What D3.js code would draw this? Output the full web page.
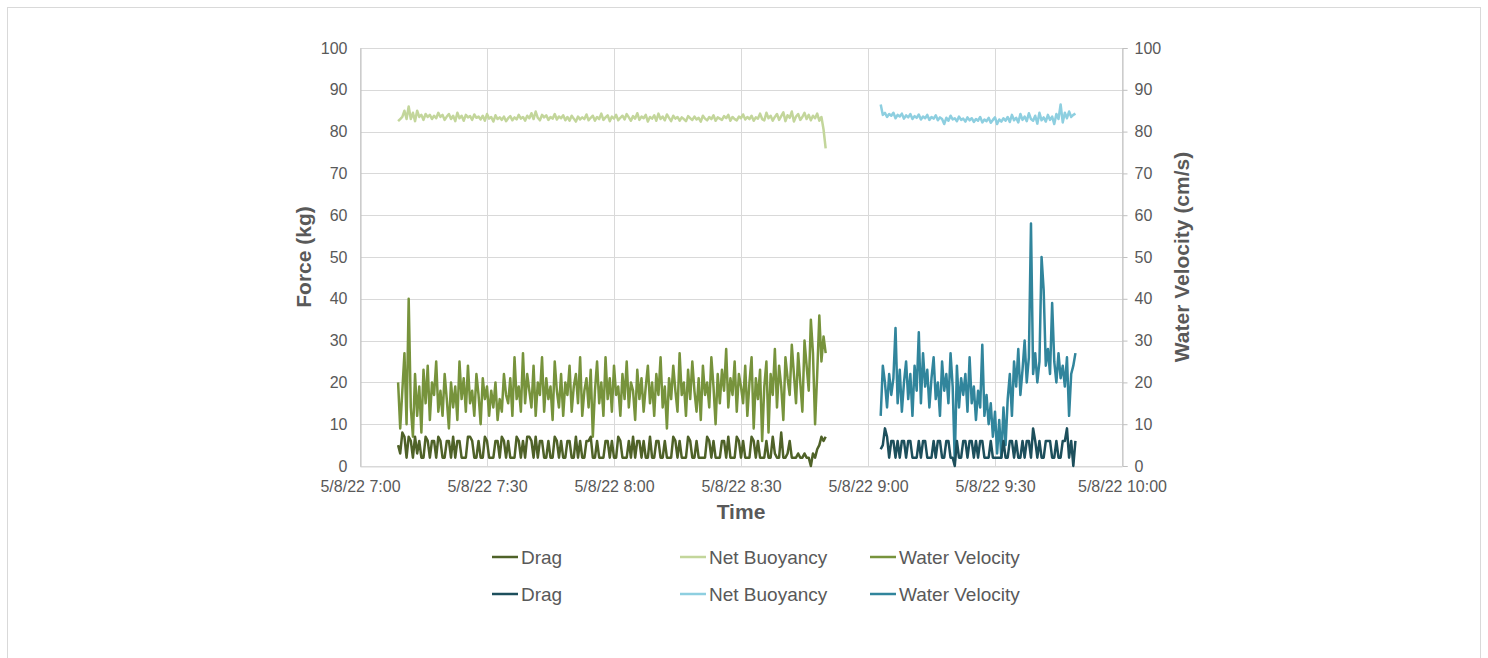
<!DOCTYPE html>
<html>
<head>
<meta charset="utf-8">
<script src="https://cdn.jsdelivr.net/npm/d3@7"></script>
<style>
  body { margin: 0; background: #fff; }
  svg text { font-family: "Liberation Sans", Arial, sans-serif; fill: #595959; }
</style>
</head>
<body>
<div id="chart"></div>
<script>
// Sampling: every 30 s. Deployment 1 (green) starts 7:09, deployment 2 (blue) starts 9:03
var greenStart = new Date(2022, 4, 8, 7, 9, 0);
var blueStart = new Date(2022, 4, 8, 9, 3, 0);
var stepMinutes = 0.5;

var greenVelocity = [
  20, 9, 18, 27, 10, 40, 14, 7, 22, 12, 19, 8, 23, 15, 24, 11, 20, 17, 25, 13,
  18, 12, 22, 16, 9, 20, 14, 19, 11, 25, 16, 21, 13, 24, 15, 18, 12, 22, 17, 10,
  21, 16, 19, 12, 18, 14, 20, 11, 16, 13, 22, 17, 15, 21, 12, 26, 16, 19, 13, 27,
  15, 22, 18, 14, 24, 12, 20, 17, 26, 13, 21, 16, 19, 11, 25, 18, 14, 22, 12, 20,
  17, 24, 13, 19, 22, 15, 26, 12, 18, 21, 14, 23, 7, 18, 25, 15, 20, 12, 26, 16,
  21, 13, 24, 17, 19, 12, 22, 16, 25, 14, 20, 18, 11, 23, 16, 21, 13, 19, 24, 15,
  20, 12, 22, 17, 26, 14, 19, 9, 21, 16, 24, 18, 13, 27, 17, 20, 12, 23, 16, 25,
  18, 13, 21, 11, 24, 17, 20, 14, 26, 19, 10, 22, 15, 23, 18, 28, 14, 21, 17, 25,
  13, 22, 19, 15, 24, 12, 20, 26, 9, 21, 16, 23, 6, 19, 25, 8, 22, 17, 28, 14,
  24, 19, 11, 26, 21, 17, 29, 22, 15, 27, 20, 13, 30, 24, 18, 35, 27, 10, 22, 36,
  25, 31, 27
];

var greenDrag = [
  5, 3, 8, 7, 2, 7, 6, 2, 7, 3, 6, 2, 2, 7, 6, 2, 6, 6, 2, 7,
  6, 2, 2, 6, 6, 2, 7, 2, 6, 6, 2, 2, 2, 7, 7, 6, 2, 2, 6, 2,
  2, 7, 6, 2, 2, 2, 6, 6, 2, 7, 6, 2, 6, 2, 2, 2, 7, 6, 2, 6,
  2, 7, 7, 6, 2, 7, 2, 6, 6, 2, 2, 6, 2, 2, 7, 6, 2, 6, 2, 2,
  6, 6, 2, 2, 7, 2, 6, 2, 2, 6, 6, 7, 2, 2, 6, 2, 2, 2, 6, 6,
  2, 6, 2, 2, 7, 6, 2, 2, 2, 6, 2, 7, 2, 6, 6, 2, 6, 2, 2, 7,
  2, 2, 6, 6, 2, 2, 6, 2, 2, 2, 7, 6, 2, 6, 2, 2, 2, 7, 6, 2,
  2, 6, 2, 2, 2, 2, 7, 6, 2, 6, 2, 2, 2, 6, 6, 2, 7, 2, 2, 2,
  7, 6, 2, 6, 2, 2, 2, 7, 6, 2, 6, 2, 2, 2, 6, 2, 2, 7, 3, 2,
  2, 8, 2, 2, 3, 6, 2, 2, 2, 3, 2, 2, 3, 2, 2, 0, 3, 2, 4, 5,
  7, 6, 7
];

var greenBuoyancy = [
  82.5, 83, 83.5, 85, 83, 86, 83, 84.5, 82.5, 85, 83.5, 84, 82.8, 84.2, 83.5, 84, 83, 83.8, 83.2, 84.5,
  83.5, 84, 82.8, 83.6, 84.2, 83, 83.8, 82.5, 84.5, 83.2, 83.8, 82.6, 84, 83.4, 83.7, 82.8, 84.1, 83.3, 83.6, 82.9,
  83.8, 82.6, 84.2, 83.1, 83.5, 82.4, 83.9, 83, 83.4, 82.8, 83.6, 82.5, 83.2, 83.7, 82.7, 83.4, 82.9, 84, 83.1, 83.5,
  82.6, 83.8, 83.2, 84.4, 83, 84.8, 83.3, 82.7, 84, 83.4, 83.9, 82.8, 83.5, 83.1, 84.2, 82.9, 83.6, 83.2, 83.9, 82.7,
  83.5, 82.6, 83.8, 83.1, 82.4, 83.6, 82.9, 83.4, 83, 84.1, 82.7, 83.3, 83.8, 82.6, 83.5, 83, 84.3, 82.8, 83.4, 83.9,
  82.5, 83.6, 83.1, 84, 82.7, 83.3, 83.8, 82.9, 84.2, 83.4, 82.6, 83.7, 83.1, 84.4, 82.8, 83.6, 83.2, 84, 82.4, 83.5,
  83.1, 83.9, 82.6, 84.3, 83, 83.6, 82.7, 84.1, 83.3, 82.5, 83.8, 83.1, 83.5, 82.6, 83.4, 83, 82.5, 83.7, 83.2, 82.8,
  83.6, 82.9, 83.3, 82.4, 83.8, 83.1, 82.7, 83.5, 83, 83.9, 82.6, 83.4, 83.1, 82.8, 83.7, 83.2, 84, 82.6, 83.5, 83,
  82.7, 83.6, 83.2, 84.1, 82.9, 83.5, 83, 83.8, 82.6, 83.4, 83.1, 84.3, 83, 82.7, 84.5, 83.2, 83.8, 82.6, 83.5, 84.2,
  82.8, 83.7, 84.6, 82.5, 83.9, 83.3, 84.8, 82.4, 83.6, 84.2, 82.8, 83.5, 84.5, 83, 84, 82.7, 83.8, 83.2, 84.3, 82.6,
  83.5, 80.5, 76
];

var blueVelocity = [
  12, 24, 20, 14, 22, 17, 21, 33, 15, 23, 13, 20, 25, 16, 22, 12, 24, 18, 32, 15,
  27, 19, 23, 14, 21, 26, 16, 20, 12, 25, 18, 22, 15, 27, 19, 1, 24, 14, 21, 17,
  22, 13, 26, 15, 19, 11, 18, 14, 29, 12, 17, 10, 15, 7, 13, 3, 11, 2, 14, 5,
  16, 22, 12, 25, 19, 28, 17, 23, 30, 20, 26, 58, 22, 27, 20, 25, 50, 42, 24, 28,
  22, 39, 25, 20, 27, 21, 24, 19, 26, 12, 22, 24, 27
];

var blueDrag = [
  4, 5, 9, 7, 2, 6, 6, 2, 6, 2, 6, 6, 2, 6, 6, 2, 2, 2, 6, 2,
  6, 6, 2, 2, 2, 6, 2, 6, 6, 2, 2, 6, 6, 2, 2, 0, 6, 2, 2, 6,
  6, 2, 6, 6, 2, 6, 2, 6, 6, 2, 2, 2, 6, 2, 2, 2, 2, 2, 6, 2,
  2, 6, 6, 2, 6, 2, 2, 6, 2, 6, 6, 2, 9, 6, 2, 6, 2, 2, 6, 6,
  6, 2, 2, 6, 2, 2, 6, 6, 9, 2, 6, 0, 6
];

var blueBuoyancy = [
  86.5, 84, 84.5, 83.5, 84.2, 83.8, 84.5, 83.2, 84, 83.6, 84.3, 83.1, 83.9, 83.4, 84.2, 83, 83.7, 83.3, 84.1, 82.9,
  83.6, 83.2, 84, 82.8, 83.5, 83.1, 83.9, 82.7, 83.4, 83, 81.8, 83.3, 82.6, 83.8, 82.9, 83.2, 82.5, 83.6, 82.8, 83.1,
  82.4, 83.4, 82.7, 83.2, 82.3, 83, 82.6, 83.5, 82.2, 82.9, 82.5, 83.3, 82.1, 82.8, 83.4, 81.8, 82.9, 82.4, 83.2, 82.6,
  83.5, 82.3, 84, 82.7, 83.3, 82.2, 84.2, 82.8, 83.6, 82.5, 84.4, 83, 82.6, 83.8, 81.9, 84.5, 82.7, 83.4, 82.4, 84,
  82.8, 83.6, 81.8, 84.2, 83, 86.5, 82.2, 84.5, 83.2, 84.8, 83.5, 84, 84.3
];

var yTicks = [0, 10, 20, 30, 40, 50, 60, 70, 80, 90, 100];
var legendNames = ["Drag", "Net Buoyancy", "Water Velocity"];

var greenColors = { drag: "#4f6228", buoy: "#c3d69b", vel: "#77933c" };
var blueColors = { drag: "#1d4f5c", buoy: "#8ecfe0", vel: "#31859c" };

var W = 1488, H = 658;
var margin = { top: 48, right: 366, bottom: 192, left: 360 };

var svg = d3.select("#chart").append("svg")
  .attr("width", W)
  .attr("height", H);

// outer frame of the chart object
svg.append("rect")
  .attr("x", 7.5).attr("y", 7.5)
  .attr("width", 1473).attr("height", 680)
  .attr("fill", "#fff")
  .attr("stroke", "#d9d9d9");

var x = d3.scaleTime()
  .domain([new Date(2022, 4, 8, 7, 0), new Date(2022, 4, 8, 10, 0)])
  .range([margin.left, W - margin.right]);

var y = d3.scaleLinear()
  .domain([0, 100])
  .range([H - margin.bottom, margin.top]);

// right axis uses the same range for cm/s
var y2 = d3.scaleLinear()
  .domain([0, 100])
  .range([H - margin.bottom, margin.top]);

var xTicks = d3.timeMinute.every(30).range(x.domain()[0], d3.timeMinute.offset(x.domain()[1], 1));
var fmtTime = function(d) {
  return (d.getMonth() + 1) + "/" + d.getDate() + "/" + String(d.getFullYear()).slice(2) + " " +
    d.getHours() + ":" + d3.format("02")(d.getMinutes());
};

// gridlines
svg.append("g").selectAll("line.h")
  .data(yTicks)
  .enter().append("line")
  .attr("x1", margin.left).attr("x2", W - margin.right)
  .attr("y1", d => Math.round(y(d)) + 0.5).attr("y2", d => Math.round(y(d)) + 0.5)
  .attr("stroke", "#d9d9d9");

svg.append("g").selectAll("line.v")
  .data(xTicks)
  .enter().append("line")
  .attr("x1", d => Math.round(x(d)) + 0.5).attr("x2", d => Math.round(x(d)) + 0.5)
  .attr("y1", margin.top).attr("y2", H - margin.bottom)
  .attr("stroke", "#d9d9d9");

// axes
var xAxis = svg.append("g")
  .attr("transform", "translate(0," + (Math.round(y(0)) + 0.5) + ")")
  .call(d3.axisBottom(x).tickValues(xTicks).tickFormat(fmtTime).tickSize(0).tickPadding(14));

var yAxis = svg.append("g")
  .attr("transform", "translate(" + (margin.left + 0.5) + ",0)")
  .call(d3.axisLeft(y).tickValues(yTicks).tickSize(0).tickPadding(13));

var yAxis2 = svg.append("g")
  .attr("transform", "translate(" + (Math.round(W - margin.right) + 0.5) + ",0)")
  .call(d3.axisRight(y2).tickValues(yTicks).tickSize(5).tickPadding(7));

[xAxis, yAxis, yAxis2].forEach(function(g) {
  g.select(".domain").attr("stroke", "#bfbfbf");
  g.selectAll(".tick line").attr("stroke", "#bfbfbf");
  g.selectAll(".tick text")
    .attr("font-size", 16)
    .attr("fill", "#595959")
    .style("font-family", "Liberation Sans, Arial, sans-serif");
});
xAxis.select(".domain").attr("stroke", "#d9d9d9");

// axis titles
svg.append("text")
  .attr("transform", "translate(311,257) rotate(-90)")
  .attr("text-anchor", "middle")
  .attr("font-size", 21).attr("font-weight", "bold")
  .text("Force (kg)");

svg.append("text")
  .attr("transform", "translate(1189,257) rotate(-90)")
  .attr("text-anchor", "middle")
  .attr("font-size", 21).attr("font-weight", "bold")
  .text("Water Velocity (cm/s)");

svg.append("text")
  .attr("x", 741).attr("y", 519)
  .attr("text-anchor", "middle")
  .attr("font-size", 21).attr("font-weight", "bold")
  .text("Time");

// series
function toPoints(start, values) {
  return values.map(function(v, i) {
    return { t: new Date(start.getTime() + i * stepMinutes * 60000), v: v };
  });
}

var line = d3.line()
  .x(d => x(d.t))
  .y(d => y(d.v));

var series = [
  { pts: toPoints(greenStart, greenBuoyancy), color: greenColors.buoy },
  { pts: toPoints(greenStart, greenVelocity), color: greenColors.vel },
  { pts: toPoints(greenStart, greenDrag), color: greenColors.drag },
  { pts: toPoints(blueStart, blueBuoyancy), color: blueColors.buoy },
  { pts: toPoints(blueStart, blueVelocity), color: blueColors.vel },
  { pts: toPoints(blueStart, blueDrag), color: blueColors.drag }
];

svg.append("g").selectAll("path")
  .data(series)
  .enter().append("path")
  .attr("d", d => line(d.pts))
  .attr("fill", "none")
  .attr("stroke", d => d.color)
  .attr("stroke-width", 2.5)
  .attr("stroke-linejoin", "round");

// legend
var legendRows = [
  { y: 557, colors: [greenColors.drag, greenColors.buoy, greenColors.vel] },
  { y: 594, colors: [blueColors.drag, blueColors.buoy, blueColors.vel] }
];
var legendX = [492, 680, 870];

legendRows.forEach(function(row) {
  legendNames.forEach(function(name, i) {
    svg.append("line")
      .attr("x1", legendX[i]).attr("x2", legendX[i] + 26)
      .attr("y1", row.y).attr("y2", row.y)
      .attr("stroke", row.colors[i])
      .attr("stroke-width", 2.5);
    svg.append("text")
      .attr("x", legendX[i] + 29).attr("y", row.y)
      .attr("dy", "0.35em")
      .attr("font-size", 19)
      .text(name);
  });
});
</script>
</body>
</html>
